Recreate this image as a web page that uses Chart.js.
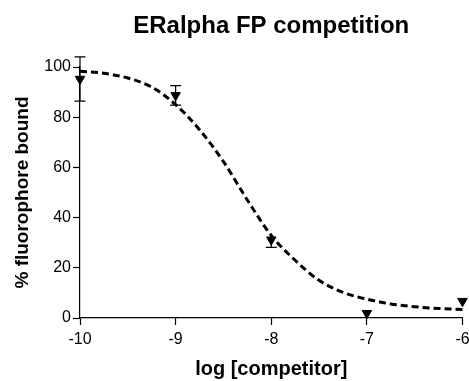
<!DOCTYPE html>
<html>
<head>
<meta charset="utf-8">
<script src="https://cdn.jsdelivr.net/npm/chart.js@4"></script>
<style>
  body { margin: 0; background: #fff; }
  canvas { display: block; }
</style>
</head>
<body>
<canvas id="chart" width="469" height="381"></canvas>
<script>
// measured points (mean, error bar up / down)
const logConc = [-10, -9, -8, -7, -6];
const bound = [95.2, 88.7, 31.2, 1.9, 6.7];
const errUp = [8.8, 3.9, 0, 0, 0];
const errDown = [8.8, 3.9, 3.1, 0, 0];

// fitted curve
const curveX = [-10, -9.75, -9.5, -9.25, -9, -8.75, -8.5, -8.25, -8, -7.75, -7.5, -7.25, -7, -6.75, -6.5, -6.25, -6];
const curveY = [98.3, 97.5, 95.6, 92, 85, 75, 62.3, 47, 32.9, 23, 15, 10.2, 7.5, 5.6, 4.5, 3.8, 3.4];

const xTicks = [-10, -9, -8, -7, -6];
const yTicks = [0, 20, 40, 60, 80, 100];

const FONT = "Arial, 'Liberation Sans', sans-serif";

const errorBars = {
  id: "errorBars",
  afterDatasetsDraw(chart) {
    const { ctx, scales } = chart;
    ctx.save();
    ctx.strokeStyle = "#000";
    ctx.lineWidth = 1.2;
    logConc.forEach((x, i) => {
      const px = scales.x.getPixelForValue(x);
      const py = scales.y.getPixelForValue(bound[i]);
      [[errUp[i], 1], [errDown[i], -1]].forEach(([e, dir]) => {
        if (!e) return;
        const ey = scales.y.getPixelForValue(bound[i] + dir * e);
        ctx.beginPath();
        ctx.moveTo(px, py);
        ctx.lineTo(px, ey);
        ctx.moveTo(px - 5.5, ey);
        ctx.lineTo(px + 5.5, ey);
        ctx.stroke();
      });
    });
    ctx.restore();
  },
};

const titlePlugin = {
  id: "plotTitle",
  afterDraw(chart) {
    const { ctx, chartArea } = chart;
    ctx.save();
    ctx.fillStyle = "#000";
    ctx.font = "bold 24px " + FONT;
    ctx.textAlign = "center";
    ctx.textBaseline = "alphabetic";
    ctx.fillText("ERalpha FP competition", (chartArea.left + chartArea.right) / 2, 33);
    ctx.restore();
  },
};

new Chart(document.getElementById("chart"), {
  type: "scatter",
  data: {
    datasets: [
      {
        label: "fit",
        data: curveX.map((x, i) => ({ x, y: curveY[i] })),
        showLine: true,
        borderColor: "#000",
        borderWidth: 3,
        borderDash: [7, 4],
        pointRadius: 0,
        cubicInterpolationMode: "monotone",
        clip: false,
      },
      {
        label: "data",
        data: logConc.map((x, i) => ({ x, y: bound[i] })),
        pointStyle: "triangle",
        rotation: 180,
        pointRadius: 5.5,
        backgroundColor: "#000",
        borderColor: "#000",
        borderWidth: 1,
        clip: false,
      },
    ],
  },
  options: {
    responsive: false,
    animation: false,
    layout: { padding: { left: 0, right: 6, top: 67, bottom: 0 } },
    plugins: { legend: { display: false }, tooltip: { enabled: false } },
    scales: {
      x: {
        type: "linear",
        min: -10,
        max: -6,
        afterFit: (s) => { s.height = 63; s.paddingRight = 0; },
        afterBuildTicks: (s) => { s.ticks = xTicks.map((v) => ({ value: v })); },
        grid: { drawOnChartArea: false, drawTicks: true, tickLength: 7, tickColor: "#000", tickWidth: 1.2 },
        border: { display: true, color: "#000", width: 1.2 },
        ticks: { color: "#000", font: { family: FONT, size: 16 }, padding: 5, maxRotation: 0 },
        title: {
          display: true,
          text: "log [competitor]",
          color: "#000",
          font: { family: FONT, size: 20, weight: "bold" },
          padding: { top: 0, bottom: 0 },
        },
      },
      y: {
        min: 0,
        max: 100,
        afterFit: (s) => { s.width = 80; },
        afterBuildTicks: (s) => { s.ticks = yTicks.map((v) => ({ value: v })); },
        grid: { drawOnChartArea: false, drawTicks: true, tickLength: 7, tickColor: "#000", tickWidth: 1.2 },
        border: { display: true, color: "#000", width: 1.2 },
        ticks: { color: "#000", font: { family: FONT, size: 16 }, padding: 2 },
        title: {
          display: true,
          text: "% fluorophore bound",
          color: "#000",
          font: { family: FONT, size: 19, weight: "bold" },
          padding: { top: 11, bottom: 0 },
        },
      },
    },
  },
  plugins: [errorBars, titlePlugin],
});
</script>
</body>
</html>
